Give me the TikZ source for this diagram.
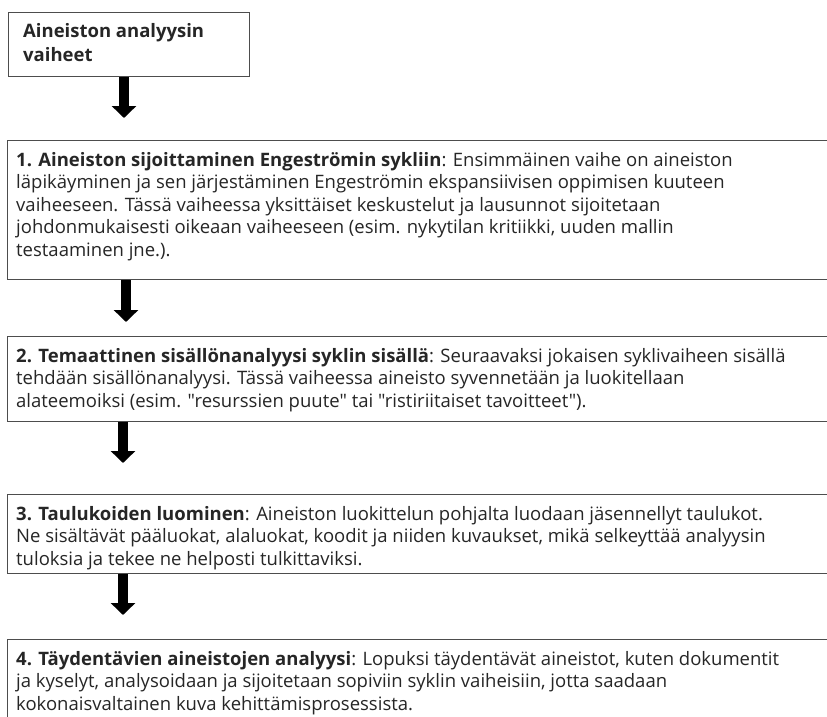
\documentclass[tikz,border=0pt]{standalone}
\usepackage{fontspec}
\setmainfont{Open Sans}[Ligatures=TeXOff]
\usetikzlibrary{arrows.meta}
\definecolor{txt}{HTML}{262626}
\definecolor{frm}{HTML}{4D4D4D}
\tikzset{
  frame/.style={draw=frm, line width=1.4pt, inner sep=0pt, anchor=north west},
  body/.style={inner sep=0pt, anchor=base west, align=left, text=txt,
    font=\fontsize{18.5}{22.5}\selectfont},
  title/.style={body, font=\fontsize{18.5}{24}\selectfont\bfseries},
  flowarrow/.style={line width=10pt, draw=black, -{Triangle[width=24pt,length=12pt]}}
}
\begin{document}
\begin{tikzpicture}[x=1pt,y=-1pt]
\clip (0,0) rectangle (827,717);
\fill[white] (0,0) rectangle (827,717);
% boxes
\node[frame, minimum width=241pt, minimum height=64pt] (b0) at (8,12) {};
\node[frame, minimum width=840pt, minimum height=139pt] (b1) at (7,140) {};
\node[frame, minimum width=840pt, minimum height=85pt] (b2) at (7,336) {};
\node[frame, minimum width=840pt, minimum height=79pt] (b3) at (7,494) {};
\node[frame, minimum width=840pt, minimum height=100pt] (b4) at (7,639) {};
% texts (anchored at the baseline of their last line)
\node[title] (t0) at (23,62) {Aineiston analyysin\\vaiheet};
\node[body] (t1) at (16,256) {\textbf{1. Aineiston sijoittaminen Engeströmin sykliin}: Ensimmäinen vaihe on aineiston\\
läpikäyminen ja sen järjestäminen Engeströmin ekspansiivisen oppimisen kuuteen\\
vaiheeseen. Tässä vaiheessa yksittäiset keskustelut ja lausunnot sijoitetaan\\
johdonmukaisesti oikeaan vaiheeseen (esim. nykytilan kritiikki, uuden mallin\\
testaaminen jne.).};
\node[body] (t2) at (16,407) {\textbf{2. Temaattinen sisällönanalyysi syklin sisällä}: Seuraavaksi jokaisen syklivaiheen sisällä\\
tehdään sisällönanalyysi. Tässä vaiheessa aineisto syvennetään ja luokitellaan\\
alateemoiksi (esim. "resurssien puute" tai "ristiriitaiset tavoitteet").};
\node[body] (t3) at (16,565) {\textbf{3. Taulukoiden luominen}: Aineiston luokittelun pohjalta luodaan jäsennellyt taulukot.\\
Ne sisältävät pääluokat, alaluokat, koodit ja niiden kuvaukset, mikä selkeyttää analyysin\\
tuloksia ja tekee ne helposti tulkittaviksi.};
\node[body] (t4) at (16,710) {\textbf{4. Täydentävien aineistojen analyysi}: Lopuksi täydentävät aineistot, kuten dokumentit\\
ja kyselyt, analysoidaan ja sijoitetaan sopiviin syklin vaiheisiin, jotta saadaan\\
kokonaisvaltainen kuva kehittämisprosessista.};
% arrows
\coordinate (a1) at (124,118);
\coordinate (a2) at (126,322);
\coordinate (a3) at (123,463);
\coordinate (a4) at (123,615);
\draw[flowarrow] (b0.south -| a1) -- (a1);
\draw[flowarrow] (b1.south -| a2) -- (a2);
\draw[flowarrow] (b2.south -| a3) -- (a3);
\draw[flowarrow] (b3.south -| a4) -- (a4);
\end{tikzpicture}
\end{document}
